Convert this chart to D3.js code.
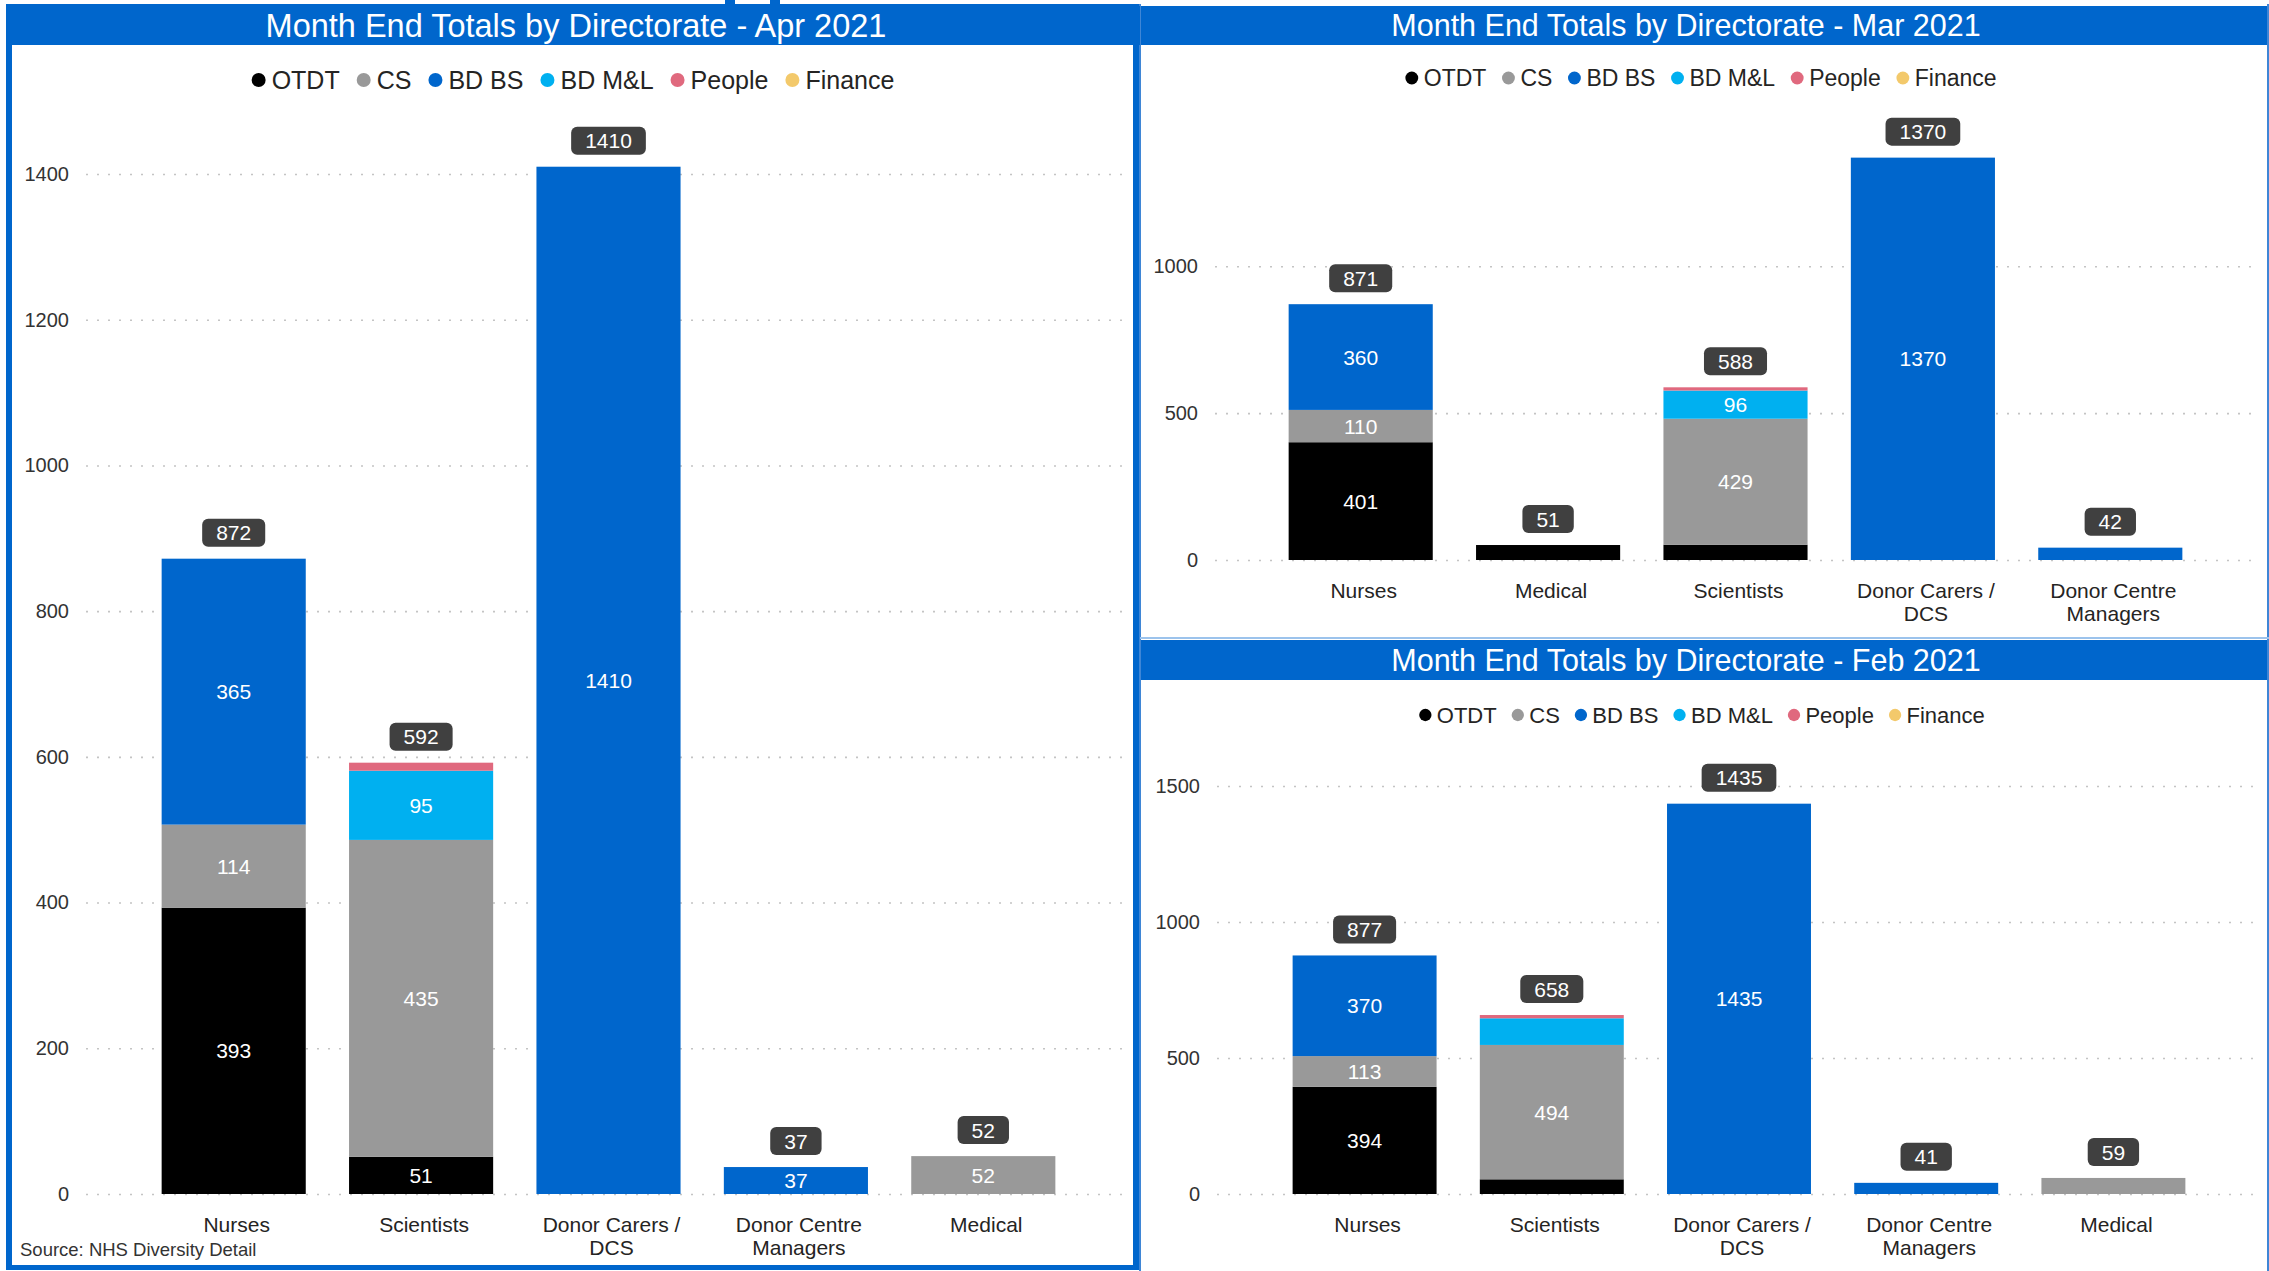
<!DOCTYPE html>
<html>
<head>
<meta charset="utf-8">
<script src="https://cdn.jsdelivr.net/npm/d3@7"></script>
<style>
  body { margin: 0; background: #ffffff; }
  svg { display: block; font-family: "Liberation Sans", Arial, sans-serif; }
</style>
</head>
<body>
<svg id="board" width="2269" height="1271"></svg>
<script>
// ---- Data -------------------------------------------------------------
const seriesNames = ["OTDT", "CS", "BD BS", "BD M&L", "People", "Finance"];

// April 2021
const aprCategories = ["Nurses", "Scientists", "Donor Carers / DCS", "Donor Centre Managers", "Medical"];
const aprOTDT    = [393, 51,    0,  0,  0];
const aprCS      = [114, 435,   0,  0, 52];
const aprBDBS    = [365, 0,  1410, 37,  0];
const aprBDML    = [0,   95,    0,  0,  0];
const aprPeople  = [0,   11,    0,  0,  0];
const aprFinance = [0,   0,     0,  0,  0];
const aprTicks   = [0, 200, 400, 600, 800, 1000, 1200, 1400];

// March 2021
const marCategories = ["Nurses", "Medical", "Scientists", "Donor Carers / DCS", "Donor Centre Managers"];
const marOTDT    = [401, 51, 52,    0,  0];
const marCS      = [110, 0,  429,   0,  0];
const marBDBS    = [360, 0,  0,  1370, 42];
const marBDML    = [0,   0,  96,    0,  0];
const marPeople  = [0,   0,  11,    0,  0];
const marFinance = [0,   0,  0,     0,  0];
const marTicks   = [0, 500, 1000];

// February 2021
const febCategories = ["Nurses", "Scientists", "Donor Carers / DCS", "Donor Centre Managers", "Medical"];
const febOTDT    = [394, 54,    0,  0,  0];
const febCS      = [113, 494,   0,  0, 59];
const febBDBS    = [370, 0,  1435, 41,  0];
const febBDML    = [0,   98,    0,  0,  0];
const febPeople  = [0,   12,    0,  0,  0];
const febFinance = [0,   0,     0,  0,  0];
const febTicks   = [0, 500, 1000, 1500];

const sourceNote = "Source: NHS Diversity Detail";

// ---- Styling ----------------------------------------------------------
const seriesColors = ["#000000", "#999999", "#0066CC", "#00B0F0", "#E0697E", "#F3C96B"];
const brandBlue = "#0066CC";
const textDark = "#252423";

const svg = d3.select("#board");

// Panel frames
// left panel: thick blue frame
svg.append("rect").attr("x", 6).attr("y", 4).attr("width", 1134).attr("height", 1266).attr("fill", brandBlue);
svg.append("rect").attr("x", 12).attr("y", 45).attr("width", 1121).attr("height", 1220).attr("fill", "#ffffff");
// right panels: thin frame lines
svg.append("rect").attr("x", 1139).attr("y", 4).attr("width", 2).attr("height", 1267).attr("fill", "#3f86d6");
svg.append("rect").attr("x", 2267).attr("y", 4).attr("width", 2).attr("height", 1267).attr("fill", "#3f86d6");
svg.append("rect").attr("x", 1140).attr("y", 637).attr("width", 1129).attr("height", 2).attr("fill", "#9cc3ec");
// small tabs along the top edge
svg.append("rect").attr("x", 725).attr("y", 0).attr("width", 10).attr("height", 5).attr("fill", brandBlue);
svg.append("rect").attr("x", 770).attr("y", 0).attr("width", 10).attr("height", 5).attr("fill", brandBlue);

function titleBar(x, y, w, h, text, fs, cx) {
  svg.append("rect").attr("x", x).attr("y", y).attr("width", w).attr("height", h).attr("fill", brandBlue);
  svg.append("text")
    .attr("x", cx).attr("y", y + h / 2).attr("dy", "0.36em")
    .attr("text-anchor", "middle").attr("fill", "#ffffff")
    .style("font-size", fs + "px")
    .text(text);
}

function legend(cx, cy, fs) {
  const g = svg.append("g");
  const r = 0.28 * fs, textGap = 0.52 * fs, itemGap = 0.96 * fs;
  let pos = 0;
  const items = seriesNames.map((name, i) => {
    const it = g.append("g");
    it.append("circle").attr("cx", 0).attr("cy", 0).attr("r", r).attr("fill", seriesColors[i]);
    const t = it.append("text").attr("x", textGap).attr("dy", "0.35em")
      .style("font-size", fs + "px").attr("fill", textDark).text(name);
    const w = t.node().getComputedTextLength();
    const p = pos;
    pos += textGap + w + itemGap;
    return { it, p };
  });
  const total = pos - itemGap + r;
  const left = cx - total / 2 + r;
  items.forEach(({ it, p }) => it.attr("transform", `translate(${left + p},${cy})`));
}

function wrap(textSel, maxWidth, lineStep) {
  textSel.each(function () {
    const t = d3.select(this);
    const words = t.text().split(/\s+/);
    const dy0 = t.attr("dy") || "0.71em";
    t.text(null);
    let line = [];
    let tspan = t.append("tspan").attr("x", 0).attr("dy", dy0);
    words.forEach(w => {
      line.push(w);
      tspan.text(line.join(" "));
      if (tspan.node().getComputedTextLength() > maxWidth && line.length > 1) {
        line.pop();
        tspan.text(line.join(" "));
        line = [w];
        tspan = t.append("tspan").attr("x", 0).attr("dy", lineStep + "px").text(w);
      }
    });
  });
}

function drawChart(cfg, L) {
  const rows = cfg.categories.map((c, i) => {
    const r = { category: c };
    seriesNames.forEach((s, j) => { r[s] = cfg.values[j][i]; });
    return r;
  });
  const totals = rows.map(r => d3.sum(seriesNames, s => r[s]));
  const layers = d3.stack().keys(seriesNames)(rows);

  const x = d3.scaleBand().domain(cfg.categories).range([L.x0, L.x1])
    .paddingInner(0.231).paddingOuter(0.1155);
  const y = d3.scaleLinear().domain([0, L.dmax]).range([L.yBase, L.yTop]);

  const g = svg.append("g");

  // value axis with dotted gridlines
  const yAxis = g.append("g").attr("transform", `translate(${L.gx0},0)`)
    .call(d3.axisLeft(y).tickValues(cfg.ticks).tickFormat(d3.format("d"))
      .tickSize(-(L.gx1 - L.gx0)).tickPadding(17));
  yAxis.select(".domain").remove();
  yAxis.selectAll(".tick line").attr("stroke", "#c4c4c4").attr("stroke-width", 1.6)
    .attr("stroke-dasharray", "2,9");
  yAxis.selectAll(".tick text").attr("fill", "#333333").style("font-size", "20px")
    .style("font-family", "\"Liberation Sans\", Arial, sans-serif");

  // stacked bars
  layers.forEach((layer, j) => {
    const lg = g.append("g");
    layer.forEach(d => {
      const v = d[1] - d[0];
      if (v <= 0) return;
      const top = y(d[1]), bottom = y(d[0]);
      lg.append("rect")
        .attr("x", x(d.data.category)).attr("width", x.bandwidth())
        .attr("y", top).attr("height", bottom - top)
        .attr("fill", seriesColors[j]);
      if (bottom - top >= 26.8) {
        lg.append("text")
          .attr("x", x(d.data.category) + x.bandwidth() / 2)
          .attr("y", (top + bottom) / 2).attr("dy", "0.36em")
          .attr("text-anchor", "middle").attr("fill", "#ffffff")
          .style("font-size", "21px").text(v);
      }
    });
  });

  // total callouts
  rows.forEach((r, i) => {
    const cx = x(r.category) + x.bandwidth() / 2;
    const cy = y(totals[i]) - 26;
    const tg = g.append("g");
    const bg = tg.append("rect").attr("fill", "#404040").attr("rx", 6).attr("ry", 6);
    const t = tg.append("text").attr("x", cx).attr("y", cy).attr("dy", "0.36em")
      .attr("text-anchor", "middle").attr("fill", "#ffffff")
      .style("font-size", "21px").text(totals[i]);
    const w = t.node().getComputedTextLength() + 28;
    bg.attr("x", cx - w / 2).attr("y", cy - 14).attr("width", w).attr("height", 28);
  });

  // category axis
  const xAxis = g.append("g").attr("transform", `translate(3,${L.yBase})`)
    .call(d3.axisBottom(x).tickSize(0).tickPadding(23));
  xAxis.select(".domain").remove();
  xAxis.selectAll(".tick text").attr("fill", textDark).style("font-size", "21px")
    .style("font-family", "\"Liberation Sans\", Arial, sans-serif")
    .call(wrap, 150, 23);
}

// ---- April (left panel) ----
titleBar(6, 6, 1134, 39, "Month End Totals by Directorate - Apr 2021", 32.5, 576);
legend(573, 80, 25);
drawChart(
  { categories: aprCategories,
    values: [aprOTDT, aprCS, aprBDBS, aprBDML, aprPeople, aprFinance],
    ticks: aprTicks },
  { x0: 140, x1: 1077, yBase: 1194, yTop: 174, dmax: 1400, gx0: 86, gx1: 1130 }
);
svg.append("text").attr("x", 20).attr("y", 1256).attr("fill", "#333333")
  .style("font-size", "18.5px").text(sourceNote);

// ---- March (top right) ----
titleBar(1141, 6, 1126, 39, "Month End Totals by Directorate - Mar 2021", 30.5, 1686);
legend(1701, 78, 23);
drawChart(
  { categories: marCategories,
    values: [marOTDT, marCS, marBDBS, marBDML, marPeople, marFinance],
    ticks: marTicks },
  { x0: 1267, x1: 2204, yBase: 560, yTop: 266.3, dmax: 1000, gx0: 1215, gx1: 2257 }
);

// ---- February (bottom right) ----
titleBar(1141, 640, 1126, 40, "Month End Totals by Directorate - Feb 2021", 30.5, 1686);
legend(1702, 715, 22);
drawChart(
  { categories: febCategories,
    values: [febOTDT, febCS, febBDBS, febBDML, febPeople, febFinance],
    ticks: febTicks },
  { x0: 1271, x1: 2207, yBase: 1194, yTop: 786, dmax: 1500, gx0: 1217, gx1: 2257 }
);
</script>
</body>
</html>
